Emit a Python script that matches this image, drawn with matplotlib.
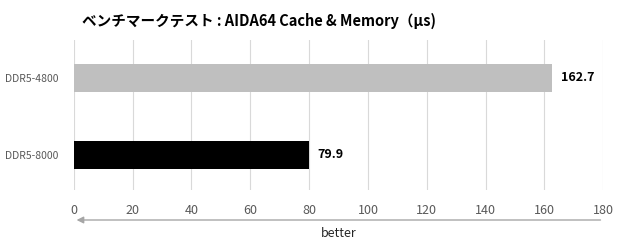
import matplotlib.pyplot as plt

plt.rcParams['font.family'] = ['Noto Sans CJK JP', 'DejaVu Sans']

# data
labels = ['DDR5-8000', 'DDR5-4800']
values = [79.9, 162.7]
colors = ['#000000', '#bfbfbf']
xticks = [0, 20, 40, 60, 80, 100, 120, 140, 160, 180]

fig = plt.figure(figsize=(6.2, 2.5), dpi=100)
ax = fig.add_axes([0.119, 0.24, 0.854, 0.60])

ax.barh(range(len(labels)), values, height=0.36, color=colors, zorder=3)
for i, v in enumerate(values):
    ax.text(v + 3, i, f'{v:.1f}', va='center', ha='left', fontsize=9,
            fontweight='bold', color='black')

ax.set_xlim(0, 180)
ax.set_ylim(-0.4545, 1.493)
ax.set_xticks(xticks)
ax.set_yticks(range(len(labels)))
ax.set_yticklabels(labels)
ax.tick_params(axis='both', length=0, labelsize=8, colors='#595959')
ax.tick_params(axis='x', pad=10, labelsize=9)
ax.tick_params(axis='y', pad=11, labelsize=7.5)
ax.grid(axis='x', color='#d9d9d9', linewidth=0.8, zorder=0)
for s in ax.spines.values():
    s.set_visible(False)

# "better" arrow under the axis
ax.annotate('', xy=(0, -0.2), xytext=(1.0, -0.2), xycoords='axes fraction',
            arrowprops=dict(arrowstyle='-|>', color='#a6a6a6', lw=1.0,
                            mutation_scale=10), annotation_clip=False)
ax.text(0.5, -0.29, 'better', transform=ax.transAxes, ha='center', va='center',
        fontsize=9, color='#262626')

fig.text(0.418, 0.915, 'ベンチマークテスト : AIDA64 Cache & Memory（μs)', ha='center',
         va='center', fontsize=10.5, fontweight='bold')

fig.savefig('out.png', dpi=100)
